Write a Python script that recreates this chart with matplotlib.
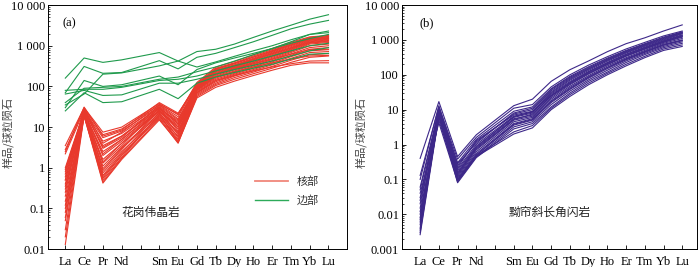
import numpy as np
import matplotlib
matplotlib.use('Agg')
import matplotlib.pyplot as plt
from matplotlib.ticker import FixedLocator, LogLocator, NullFormatter
from matplotlib.lines import Line2D

plt.rcParams['font.family'] = ['Liberation Serif', 'Noto Sans CJK SC']

# 稀土元素 (Pm 位置留空)
elements = ['La', 'Ce', 'Pr', 'Nd', 'Sm', 'Eu', 'Gd', 'Tb', 'Dy', 'Ho', 'Er', 'Tm', 'Yb', 'Lu']
xpos = [0, 1, 2, 3, 5, 6, 7, 8, 9, 10, 11, 12, 13, 14]

# (a) 花岗伟晶岩 - 核部
core = [
    [3.5, 30, 7.5, 10, 38, 20, 125, 300, 410, 600, 860, 1220, 1650, 1800],
    [2.8, 28, 6.5, 9, 35, 18, 115, 280, 380, 560, 800, 1150, 1600, 1750],
    [2.2, 26, 5.5, 8, 32, 15, 110, 260, 360, 520, 760, 1100, 1550, 1700],
    [1.0, 25, 4.5, 7, 30, 13, 105, 250, 340, 490, 720, 1050, 1500, 1650],
    [0.8, 24, 3.5, 6, 28, 12, 100, 240, 320, 470, 690, 1000, 1450, 1600],
    [0.6, 27, 3.0, 5.5, 34, 16, 98, 230, 310, 450, 660, 950, 1400, 1550],
    [0.5, 22, 2.5, 5, 26, 11, 95, 220, 300, 430, 630, 900, 1350, 1500],
    [0.4, 23, 2.0, 4.5, 25, 10, 92, 210, 290, 410, 600, 870, 1300, 1450],
    [0.3, 21, 1.6, 4, 24, 9, 90, 200, 280, 390, 570, 830, 1250, 1400],
    [0.25, 25, 1.3, 3.5, 30, 8, 88, 190, 270, 380, 550, 800, 1200, 1350],
    [0.2, 20, 1.1, 3.2, 22, 7.5, 85, 180, 255, 360, 520, 760, 1150, 1300],
    [0.15, 22, 0.95, 3.0, 20, 7, 82, 170, 240, 340, 490, 720, 1100, 1200],
    [0.12, 26, 0.85, 2.8, 27, 6.5, 80, 160, 225, 320, 460, 680, 1000, 1100],
    [0.1, 19, 0.75, 2.5, 18, 6, 76, 150, 210, 300, 430, 630, 900, 1000],
    [0.08, 24, 0.65, 2.3, 23, 5.5, 72, 140, 200, 280, 400, 580, 820, 900],
    [0.06, 21, 0.6, 2.1, 19, 5, 68, 130, 190, 260, 370, 540, 750, 800],
    [0.05, 18, 0.55, 2.0, 17, 4.6, 64, 120, 180, 245, 340, 490, 680, 720],
    [0.03, 23, 0.5, 1.8, 21, 4.3, 60, 112, 165, 225, 310, 440, 600, 640],
    [0.02, 20, 0.45, 1.7, 16, 4.0, 56, 105, 150, 205, 280, 390, 520, 560],
    [0.013, 19, 0.42, 1.6, 15, 4.2, 52, 95, 135, 185, 250, 330, 380, 380],
    [0.5, 29, 4.0, 7.5, 36, 21, 118, 270, 370, 530, 740, 1050, 1450, 1500],
    [2.5, 31, 6.0, 8.5, 40, 22, 108, 245, 330, 460, 640, 880, 1200, 1250],
    [0.9, 24, 2.2, 5.0, 29, 14, 95, 205, 270, 360, 470, 620, 800, 820],
    [0.35, 22, 1.4, 4.0, 25, 10, 85, 175, 230, 300, 380, 470, 560, 580],
    [0.7, 26, 3.2, 6.0, 31, 12, 70, 140, 185, 240, 300, 360, 420, 430],
]

# (a) 花岗伟晶岩 - 边部
rim = [
    [160, 500, 390, 450, 680, 420, 720, 820, 1100, 1600, 2300, 3200, 4500, 5800],
    [70, 310, 210, 220, 430, 270, 520, 650, 900, 1250, 1800, 2600, 3400, 4200],
    [35, 65, 200, 215, 320, 420, 300, 400, 550, 750, 1000, 1400, 1900, 2300],
    [30, 140, 100, 110, 180, 110, 260, 380, 500, 650, 850, 1150, 1500, 1900],
    [80, 85, 85, 95, 140, 150, 180, 240, 320, 420, 560, 750, 1000, 1150],
    [65, 80, 60, 62, 120, 120, 150, 200, 260, 330, 420, 560, 750, 900],
    [25, 70, 40, 42, 85, 50, 120, 170, 220, 280, 350, 470, 620, 650],
    [40, 90, 95, 100, 150, 170, 230, 300, 420, 600, 850, 1250, 1900, 2100],
]

# (b) 黝帘斜长角闪岩
amph = [
    [0.4, 17, 0.45, 1.9, 13, 20, 65, 140, 250, 460, 780, 1150, 1800, 2700],
    [0.13, 12, 0.38, 1.6, 11, 14, 45, 100, 190, 330, 550, 850, 1300, 1800],
    [0.06, 10, 0.3, 1.4, 9, 12, 40, 90, 170, 300, 500, 780, 1200, 1700],
    [0.03, 9, 0.25, 1.2, 7.5, 10, 35, 80, 150, 270, 460, 720, 1100, 1600],
    [0.02, 8, 0.2, 1.0, 6.5, 8.5, 30, 70, 135, 245, 420, 660, 1000, 1500],
    [0.015, 11, 0.18, 0.9, 6, 8, 28, 64, 125, 225, 390, 620, 950, 1400],
    [0.01, 7, 0.15, 0.8, 5.5, 7, 25, 58, 115, 210, 360, 580, 900, 1300],
    [0.008, 9.5, 0.13, 0.7, 5, 6.5, 22, 52, 105, 195, 340, 540, 850, 1200],
    [0.006, 6, 0.12, 0.62, 4.5, 6, 20, 47, 95, 180, 310, 500, 800, 1100],
    [0.005, 10, 0.11, 0.55, 4, 5.5, 18, 43, 88, 165, 290, 470, 750, 1000],
    [0.004, 8.5, 0.1, 0.5, 3.6, 5, 16, 38, 80, 150, 270, 440, 700, 950],
    [0.003, 7.5, 0.09, 0.45, 3.2, 4.5, 14, 34, 72, 135, 250, 410, 650, 880],
    [0.0026, 6.5, 0.08, 0.42, 2.8, 4, 12, 30, 65, 120, 225, 380, 600, 800],
    [0.012, 5, 0.1, 0.48, 2.3, 3.5, 11, 27, 58, 110, 200, 340, 550, 720],
    [0.04, 4.2, 0.085, 0.45, 2.0, 3, 10, 24, 52, 100, 180, 310, 500, 650],
    [0.1, 13, 0.28, 1.1, 8, 11, 38, 85, 160, 285, 480, 750, 1150, 1650],
    [0.025, 11, 0.22, 1.3, 7, 9, 32, 75, 145, 260, 440, 690, 1050, 1550],
    [0.007, 8, 0.14, 0.75, 5.2, 7.5, 24, 55, 110, 200, 350, 560, 870, 1250],
    [0.05, 9, 0.16, 0.85, 6.2, 8.8, 26, 60, 120, 220, 380, 600, 920, 1350],
    [0.0035, 7, 0.095, 0.5, 3.8, 5.2, 17, 40, 85, 160, 280, 455, 720, 980],
]

yticks_a = [0.01, 0.1, 1, 10, 100, 1000, 10000]
ylabels_a = ['0.01', '0.1', '1', '10', '100', '1 000', '10 000']
yticks_b = [0.001, 0.01, 0.1, 1, 10, 100, 1000, 10000]
ylabels_b = ['0.001', '0.01', '0.1', '1', '10', '100', '1 000', '10 000']

RED = '#e8392c'
GREEN = '#1f9a4c'
PURPLE = '#3d2889'
CJK = ['Noto Sans CJK SC', 'DejaVu Sans']
FS = 9


def style_axes(ax, yticks, ylabels, ylim, xlim, ylab_x):
    ax.set_yscale('log')
    ax.set_ylim(*ylim)
    ax.set_xlim(*xlim)
    ax.set_yticks(yticks)
    ax.set_yticklabels(ylabels, fontsize=FS)
    ax.yaxis.set_minor_locator(LogLocator(base=10, subs=np.arange(2, 10)))
    ax.yaxis.set_minor_formatter(NullFormatter())
    ax.xaxis.set_major_locator(FixedLocator(range(15)))
    ax.set_xticklabels(elements[:4] + [''] + elements[4:], fontsize=FS)
    ax.tick_params(axis='both', which='major', direction='in', length=3, width=0.6,
                   top=False, right=False, pad=2)
    ax.tick_params(axis='y', which='minor', direction='in', length=1.5, width=0.5, right=False)
    ax.tick_params(axis='x', pad=5)
    for s in ax.spines.values():
        s.set_linewidth(0.7)
    ax.set_ylabel('样品/球粒陨石', family=CJK, fontsize=8, color='#444444')
    ax.yaxis.set_label_coords(ylab_x, 0.48)


fig = plt.figure(figsize=(7, 2.67), dpi=100)
ax1 = fig.add_axes([0.0686, 0.067, 0.427, 0.914])
ax2 = fig.add_axes([0.574, 0.067, 0.422, 0.914])

for row in core:
    ax1.plot(xpos, row, color=RED, lw=0.8)
for row in rim:
    ax1.plot(xpos, row, color=GREEN, lw=0.8)
style_axes(ax1, yticks_a, ylabels_a, (0.01, 10000), (-0.92, 14.98), -0.115)
ax1.text(0.05, 0.925, '(a)', transform=ax1.transAxes, fontsize=FS, va='center')
ax1.text(0.245, 0.152, '花岗伟晶岩', transform=ax1.transAxes, family=CJK, fontsize=8.5,
         va='center', color='#222222')
handles = [Line2D([], [], color='#f0877b', lw=1.3), Line2D([], [], color='#2daa5a', lw=1.0)]
ax1.legend(handles, ['核部', '边部'], loc='center left', bbox_to_anchor=(0.692, 0.238),
           frameon=False, prop={'family': CJK, 'size': 8}, handlelength=3.0,
           handletextpad=0.8, labelspacing=0.75, borderpad=0, borderaxespad=0,
           labelcolor='#333333')

for row in amph:
    ax2.plot(xpos, row, color=PURPLE, lw=0.8)
style_axes(ax2, yticks_b, ylabels_b, (0.001, 10000), (-0.98, 14.8), -0.12)
ax2.text(0.06, 0.925, '(b)', transform=ax2.transAxes, fontsize=FS, va='center')
ax2.text(0.36, 0.152, '黝帘斜长角闪岩', transform=ax2.transAxes, family=CJK, fontsize=8.5,
         va='center', color='#222222')

fig.savefig('out.png', dpi=100)
